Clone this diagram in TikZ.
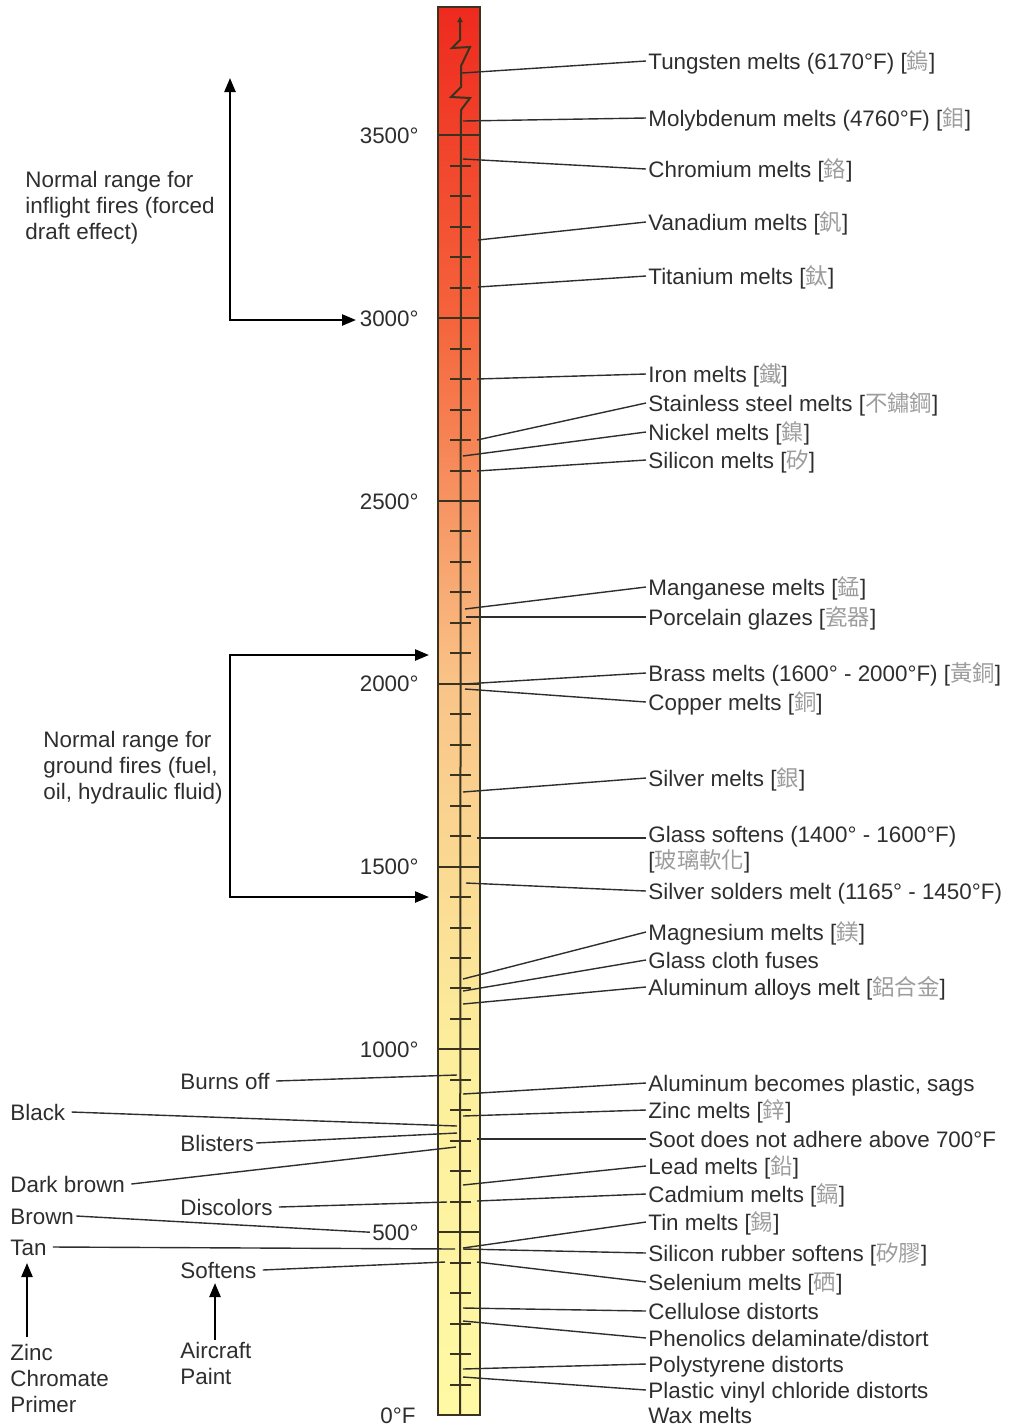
\documentclass[tikz,border=0pt]{standalone}
\usepackage{fontspec}
\setmainfont{Liberation Sans}
\newfontfamily\cjkfont{Noto Sans CJK TC}
\usetikzlibrary{arrows.meta}

\definecolor{inkgray}{HTML}{2E2E2E}
\definecolor{zhgray}{HTML}{9C9C9C}
\definecolor{barline}{HTML}{3A3320}
\definecolor{hotred}{HTML}{EE2A1E}
\definecolor{redorange}{HTML}{F5643C}
\definecolor{peach}{HTML}{F9C488}
\definecolor{paleyel}{HTML}{FCEE9C}
\definecolor{lightyel}{HTML}{FFF9A4}

\newcommand{\zh}[1]{[{\color{zhgray}\cjkfont #1}]}

\tikzset{
  lbl/.style={anchor=west, inner sep=1pt, text height=8pt, text depth=0pt},
  leftlbl/.style={lbl, inner sep=3pt},
  multi/.style={anchor=west, inner sep=1pt, align=left},
  scl/.style={anchor=east, inner sep=1pt, text height=8pt, text depth=0pt},
  conn/.style={draw=inkgray, line width=0.7pt},
  tick/.style={draw=barline, line width=1pt},
  rangearrow/.style={line width=1.2pt, {Triangle[length=7pt,width=5.5pt]}-{Triangle[length=7pt,width=5.5pt]}},
  uparrow/.style={line width=1.2pt, -{Triangle[length=7pt,width=5.5pt]}},
}

\begin{document}
\begin{tikzpicture}[x=0.5pt, y=-0.5pt, font=\fontsize{11.2}{13}\selectfont, text=inkgray]

\useasboundingbox (0,0) rectangle (1009,1426);

% thermometer bar
\shade[top color=hotred, bottom color=redorange] (438,7) rectangle (480,320);
\shade[top color=redorange, bottom color=peach] (438,320) rectangle (480,685);
\shade[top color=peach, bottom color=paleyel] (438,685) rectangle (480,1050);
\shade[top color=paleyel, bottom color=lightyel] (438,1050) rectangle (480,1415);
\draw[barline, line width=1pt] (438,7) rectangle (480,1415);

\foreach \k in {1,...,41}
  \draw[tick] (450,{1415-30.467*\k}) -- (471,{1415-30.467*\k});
\foreach \t in {500,1000,...,3500}
  \draw[tick] (438,{1415-0.3656*\t}) -- (480,{1415-0.3656*\t});

\draw[barline, line width=1pt, -{Latex[length=3pt,width=3pt]}] (460,1415) -- (461,110) -- (470,98) -- (451,97)
  -- (461,87) -- (461,66) -- (470,47) -- (452,48) -- (460,40) -- (460,16);

% scale
\foreach \t in {500,1000,...,3500}
  \node[scl] (s\t) at (421,{1415-0.3656*\t}) {\t{}°};
\node (s0) at (398,1416) {0°F};

% right side
\foreach \n/\bx/\by/\ly/\txt in {
  tung/462/73/61/Tungsten melts (6170°F) \zh{鎢},
  moly/463/121/118/Molybdenum melts (4760°F) \zh{鉬},
  chrom/463/159/169/Chromium melts \zh{鉻},
  vana/478/240/222/Vanadium melts \zh{釩},
  tita/478/287/276/Titanium melts \zh{鈦},
  iron/477/379/374/Iron melts \zh{鐵},
  stain/477/440/403/Stainless steel melts \zh{不鏽鋼},
  nick/463/456/432/Nickel melts \zh{鎳},
  silic/477/471/460/Silicon melts \zh{矽},
  mang/465/609/587/Manganese melts \zh{錳},
  porc/466/617/617/Porcelain glazes \zh{瓷器},
  brass/464/684/673/Brass melts (1600° - 2000°F) \zh{黃銅},
  copp/465/689/702/Copper melts \zh{銅},
  silv/463/792/778/Silver melts \zh{銀},
  solder/466/883/891/Silver solders melt (1165° - 1450°F),
  magn/463/979/932/Magnesium melts \zh{鎂},
  gcloth/463/991/960/Glass cloth fuses,
  alall/463/1004/987/Aluminum alloys melt \zh{鋁合金},
  alplas/463/1094/1083/{Aluminum becomes plastic, sags},
  zinc/463/1116/1110/Zinc melts \zh{鋅},
  soot/477/1139/1139/Soot does not adhere above 700°F,
  lead/463/1185/1166/Lead melts \zh{鉛},
  cadm/477/1201/1194/Cadmium melts \zh{鎘},
  tin/463/1248/1222/Tin melts \zh{錫},
  srub/463/1249/1253/Silicon rubber softens \zh{矽膠},
  selen/477/1262/1282/Selenium melts \zh{硒},
  cellu/463/1308/1311/Cellulose distorts,
  phen/463/1321/1338/{Phenolics delaminate/distort},
  poly/463/1369/1364/Polystyrene distorts,
  pvc/463/1377/1390/Plastic vinyl chloride distorts}{
  \coordinate (\n-b) at (\bx,\by);
  \node[lbl] (\n) at (646,\ly) {\txt};
  \draw[conn] (\n-b) -- (\n.west);
}

\coordinate (glass-b) at (477,838);
\node[multi] (glass) at (646,850) {Glass softens (1400° - 1600°F)\\\zh{玻璃軟化}};
\draw[conn] (glass-b) -- (glass-b -| glass.west);

\node[lbl] (wax) at (646,1415) {Wax melts};

% left side
\foreach \n/\lx/\ly/\bx/\by/\txt in {
  burns/174/1081/457/1075/Burns off,
  black/4/1112/457/1126/Black,
  dbrown/4/1184/456/1147/Dark brown,
  discol/174/1207/447/1202/Discolors,
  tan/4/1247/455/1249/Tan,
  soft/174/1270/445/1262/Softens}{
  \coordinate (\n-b) at (\bx,\by);
  \node[leftlbl] (\n) at (\lx,\ly) {\txt};
  \draw[conn] (\n.east) -- (\n-b);
}

\coordinate (blist-b) at (457,1133);
\node[lbl] (blist) at (178,1143) {Blisters};
\draw[conn] (blist.east) -- (blist-b);

\node[lbl] (brown) at (8,1216) {Brown};
\draw[conn] (brown.east) -- (s500.west);

\node[multi] (primer) at (8,1378) {Zinc\\Chromate\\Primer};
\coordinate (primer-a) at (27,1337);
\coordinate (primer-t) at (27,1263);
\draw[uparrow] (primer-a) -- (primer-t);

\node[multi] (paint) at (178,1363) {Aircraft\\Paint};
\coordinate (paint-a) at (215,1340);
\coordinate (paint-t) at (215,1283);
\draw[uparrow] (paint-a) -- (paint-t);

% fire ranges
\node[multi] (inflight) at (23,208) {Normal range for\\inflight fires (forced\\draft effect)};
\coordinate (fly-top) at (230,78);
\coordinate (fly-c) at (230,320);
\coordinate (fly-tip) at (356,320);
\draw[rangearrow] (fly-top) -- (fly-c) -- (fly-tip);

\node[multi] (ground) at (41,768) {Normal range for\\ground fires (fuel,\\oil, hydraulic fluid)};
\coordinate (gnd-t1) at (429,655);
\coordinate (gnd-c1) at (230,655);
\coordinate (gnd-c2) at (230,897);
\coordinate (gnd-t2) at (429,897);
\draw[rangearrow] (gnd-t1) -- (gnd-c1) -- (gnd-c2) -- (gnd-t2);

\end{tikzpicture}
\end{document}
